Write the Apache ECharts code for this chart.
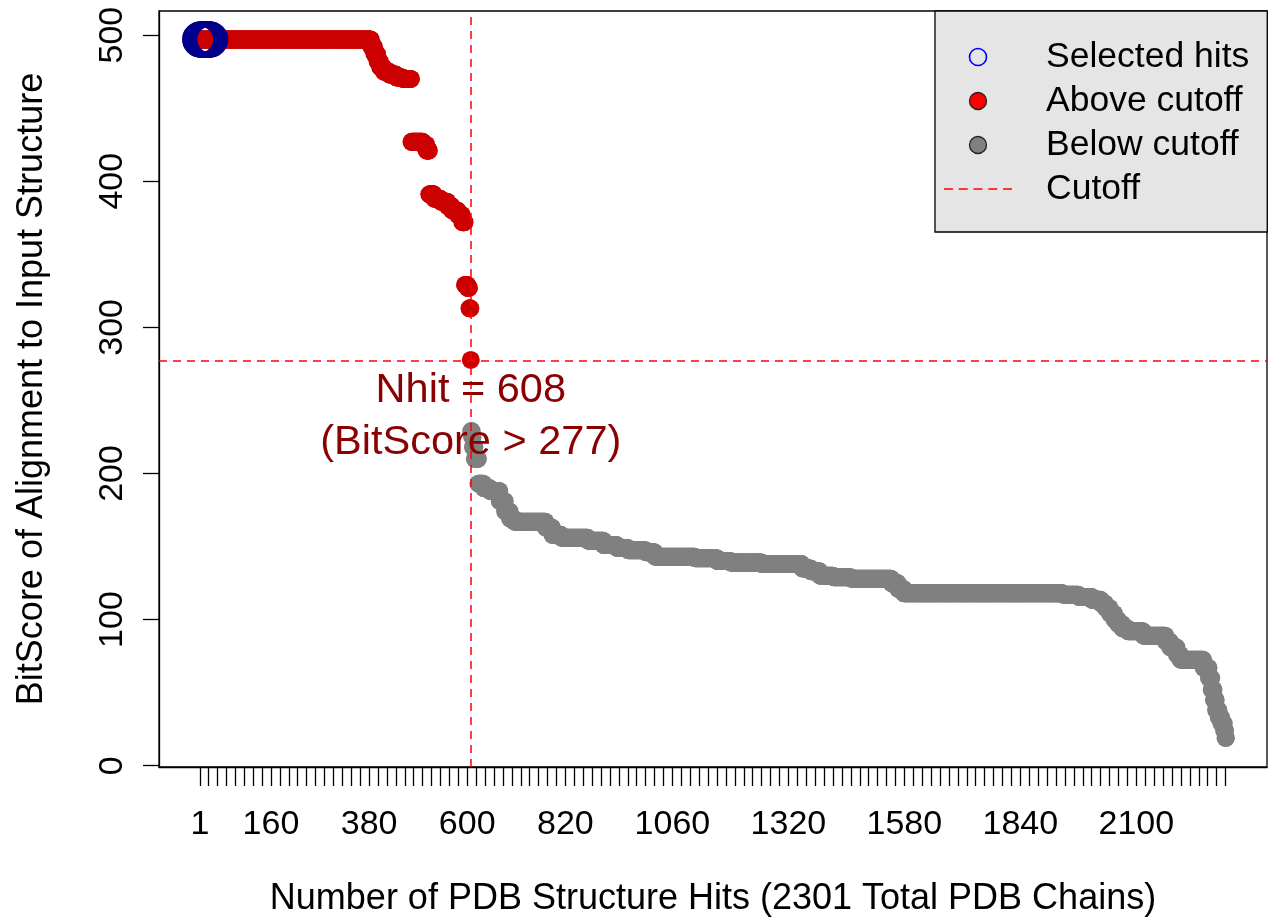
<!DOCTYPE html>
<html>
<head>
<meta charset="utf-8">
<script src="https://cdn.jsdelivr.net/npm/echarts@6/dist/echarts.min.js"></script>
<style>
html,body{margin:0;padding:0;background:#fff;}
#main{width:1268px;height:919px;}
</style>
</head>
<body>
<div id="main"></div>
<script>
// bitscore of each hit: [score, number of hits]
let scoreRuns = [
    [497, 384], [492, 7], [487, 7], [482, 6], [478, 8], [475, 13], [473, 15], [471, 15], [470, 19],
    [427, 26], [425, 8], [421, 6],
    [391, 11], [388, 15], [386, 15], [383, 10], [380, 13], [377, 10], [372, 6],
    [329, 6], [327, 4], [313, 3], [277.7, 1],
    [229, 2], [225, 2], [218, 4], [210, 8],
    [193, 12], [190, 14], [188, 22], [181, 12], [174, 11], [169, 10], [167, 70],
    [163, 15], [158, 20], [156, 60], [154, 35], [151, 30], [149, 25], [147.5, 40], [146, 20],
    [143, 90], [142, 50], [140, 30], [139, 70], [138, 90], [135, 20], [133, 20],
    [130, 30], [129, 40], [128, 90], [125, 15], [121, 13], [118, 357],
    [117, 35], [115.5, 30], [113.5, 20], [111, 10], [108, 10], [104, 10], [100, 8],
    [97, 10], [94, 12], [92, 35], [89, 50], [85, 10], [81, 15], [76, 8], [72.5, 52],
    [67, 12], [60, 6], [52, 5], [45, 5], [38, 6], [33, 6], [29, 6], [24, 3], [19, 2]
];
let nhit = 608;          // hits above the cutoff
let cutoff = 277;        // bitscore cutoff
let selectedCount = 24;  // hits drawn as selected (blue rings)
let xLabels = [1, 160, 380, 600, 820, 1060, 1320, 1580, 1840, 2100];
let yLabels = [0, 100, 200, 300, 400, 500];
let xTicks = [1];
for (let t = 20; t <= 2300; t += 20) xTicks.push(t);

let font = 'Liberation Sans, Arial, Helvetica, sans-serif';

let scores = [];
scoreRuns.forEach(function (r) {
    for (let k = 0; k < r[1]; k++) scores.push(r[0]);
});
let total = scores.length;

let above = [], below = [], selected = [];
for (let i = 0; i < total; i++) {
    let p = [i + 1, scores[i]];
    if (i < nhit) above.push(p); else below.push(p);
    if (i < selectedCount) selected.push(p);
}

// dashed line icon for the "Cutoff" legend entry
let dashIcon = 'path://M0,0h9v1.4h-9Z M14.75,0h9v1.4h-9Z M29.5,0h9v1.4h-9Z M44.25,0h9v1.4h-9Z M59,0h9v1.4h-9Z';

let myChart = echarts.init(document.getElementById('main'));
let option = {
    animation: false,
    textStyle: {fontFamily: font},
    grid: {
        left: 159, right: 1, top: 11, bottom: 152,
        outerBoundsMode: 'none',
        show: true, borderColor: '#000', borderWidth: 1.3, backgroundColor: 'transparent'
    },
    legend: {
        orient: 'vertical',
        left: 935, top: 11,
        padding: [28, 18, 25, 9],
        backgroundColor: '#E5E5E5',
        borderColor: '#000', borderWidth: 1.3, borderRadius: 0,
        itemWidth: 68, itemHeight: 17, itemGap: 8,
        textStyle: {fontFamily: font, fontSize: 35.5, lineHeight: 35, color: '#000', padding: [0, 0, 0, 29]},
        selectedMode: false,
        data: [
            {name: 'Selected hits', icon: 'circle',
                itemStyle: {color: 'rgba(0,0,0,0)', borderColor: '#0000FF', borderWidth: 1.6}},
            {name: 'Above cutoff', icon: 'circle',
                itemStyle: {color: '#FF0000', borderColor: '#222', borderWidth: 1.3}},
            {name: 'Below cutoff', icon: 'circle',
                itemStyle: {color: '#808080', borderColor: '#222', borderWidth: 1.3}},
            {name: 'Cutoff', icon: dashIcon,
                itemStyle: {color: '#FF0000', borderWidth: 0}}
        ]
    },
    xAxis: {
        type: 'value',
        min: -91, max: 2393,
        name: 'Number of PDB Structure Hits (' + total + ' Total PDB Chains)',
        nameLocation: 'middle', nameGap: 114,
        nameTextStyle: {fontFamily: font, fontSize: 36, color: '#000'},
        axisLine: {show: true, onZero: false, lineStyle: {color: '#000', width: 1.3}},
        axisTick: {show: true, customValues: xTicks, length: 19, lineStyle: {color: '#000', width: 1.3}},
        axisLabel: {
            customValues: xLabels, margin: 41, fontFamily: font, fontSize: 34, color: '#000',
            formatter: function (v) { return String(v); }
        },
        splitLine: {show: false}
    },
    yAxis: {
        type: 'value',
        min: -0.9, max: 516.5,
        name: 'BitScore of Alignment to Input Structure',
        nameLocation: 'middle', nameGap: 109, nameRotate: 90,
        nameTextStyle: {fontFamily: font, fontSize: 36, color: '#000'},
        axisLine: {show: true, onZero: false, lineStyle: {color: '#000', width: 1.3}},
        axisTick: {show: true, customValues: yLabels, length: 16, lineStyle: {color: '#000', width: 1.3}},
        axisLabel: {
            customValues: yLabels, rotate: 90, margin: 29, fontFamily: font, fontSize: 34, color: '#000',
            formatter: function (v) { return String(v); }
        },
        splitLine: {show: false}
    },
    series: [{
        name: 'Below cutoff',
        type: 'scatter',
        symbol: 'circle',
        symbolSize: 18,
        itemStyle: {color: '#808080', opacity: 1},
        data: below
    }, {
        name: 'Above cutoff',
        type: 'scatter',
        symbol: 'circle',
        symbolSize: 18,
        itemStyle: {color: '#CC0000', opacity: 1},
        data: above
    }, {
        name: 'Selected hits',
        type: 'scatter',
        symbol: 'circle',
        symbolSize: 31,
        itemStyle: {color: 'rgba(0,0,0,0)', borderColor: '#00008B', borderWidth: 5, opacity: 1},
        data: selected
    }, {
        name: 'Cutoff',
        type: 'line',
        symbol: 'none',
        data: [],
        lineStyle: {color: '#FF0000', width: 1.5, type: [8, 6]},
        itemStyle: {color: '#FF0000'},
        markLine: {
            silent: true,
            symbol: 'none',
            label: {show: false},
            lineStyle: {color: '#FF0000', width: 1.5, type: [8, 6], opacity: 1},
            data: [{xAxis: nhit}, {yAxis: cutoff}]
        },
        markPoint: {
            silent: true,
            symbol: 'rect',
            symbolSize: 1,
            itemStyle: {color: 'rgba(0,0,0,0)'},
            label: {
                show: true, position: 'inside',
                color: '#8B0000', fontFamily: font, fontSize: 41.5, lineHeight: 52,
                formatter: 'Nhit = ' + nhit + '\n(BitScore > ' + cutoff + ')'
            },
            data: [{coord: [nhit, 239]}]
        }
    }]
};
myChart.setOption(option);
</script>
</body>
</html>
